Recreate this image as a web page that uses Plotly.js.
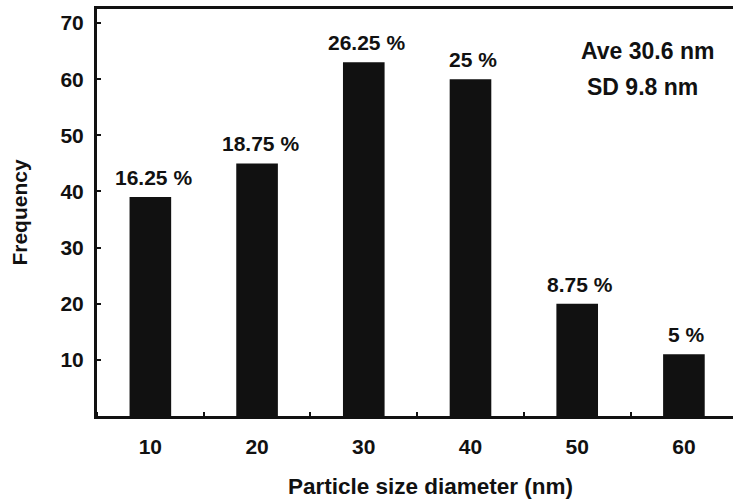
<!DOCTYPE html>
<html>
<head>
<meta charset="utf-8">
<script src="https://cdn.plot.ly/plotly-3.0.1.min.js"></script>
<style>html,body{margin:0;padding:0;background:#fff}#chart{width:733px;height:502px}</style>
</head>
<body>
<div id="chart"></div>
<script>
const sizes = [10, 20, 30, 40, 50, 60];
const frequency = [39, 45, 63, 60, 20, 11];
const percentLabels = ['16.25 %', '18.75 %', '26.25 %', '25 %', '8.75 %', '5 %'];
const yTicks = [10, 20, 30, 40, 50, 60, 70];
const statsLines = ['Ave 30.6 nm', 'SD 9.8 nm'];
const xTitle = 'Particle size diameter (nm)';
const yTitle = 'Frequency';

const FONT = 'Arial, "Liberation Sans", sans-serif';
const ink = '#111';

const annotations = sizes.map((s, i) => ({
  x: s, y: frequency[i], xref: 'x', yref: 'y',
  text: '<b>' + percentLabels[i] + '</b>', showarrow: false,
  yanchor: 'bottom', yshift: 6, xshift: 3,
  font: {family: FONT, size: 21, color: ink}
}));
annotations.push({
  x: 56.6, y: 65.0, xref: 'x', yref: 'y', text: '<b>' + statsLines[0] + '</b>',
  showarrow: false, font: {family: FONT, size: 23, color: ink}
});
annotations.push({
  x: 56.1, y: 58.6, xref: 'x', yref: 'y', text: '<b>' + statsLines[1] + '</b>',
  showarrow: false, font: {family: FONT, size: 23, color: ink}
});
annotations.push({
  x: 0.5236, y: -0.1744, xref: 'paper', yref: 'paper', text: '<b>' + xTitle + '</b>',
  showarrow: false, xanchor: 'center', yanchor: 'middle',
  font: {family: FONT, size: 22.5, color: ink}
});

const layout = {
  width: 733, height: 502,
  margin: {l: 97, r: 0, t: 9, b: 86},
  paper_bgcolor: '#fff', plot_bgcolor: '#fff',
  showlegend: false,
  xaxis: {
    range: [5, 64.6], showgrid: false, zeroline: false,
    showline: true, linewidth: 3, linecolor: ink, mirror: true,
    tickvals: sizes, ticktext: sizes.map(String), ticks: '',
    ticklabelstandoff: 10,
    minor: {tick0: 5, dtick: 10, ticks: 'inside', ticklen: 4, tickwidth: 2, tickcolor: ink},
    tickfont: {family: FONT, size: 21, color: ink, weight: 'bold'}
  },
  yaxis: {
    range: [0, 72.5], showgrid: false, zeroline: false,
    showline: true, linewidth: 3, linecolor: ink, mirror: false,
    tickvals: yTicks, ticks: 'inside', ticklen: 4, tickwidth: 2, tickcolor: ink,
    ticklabelstandoff: 6,
    tickfont: {family: FONT, size: 21, color: ink, weight: 'bold'},
    title: {text: '<b>' + yTitle + '</b>', standoff: 28,
            font: {family: FONT, size: 21, color: ink}}
  },
  annotations: annotations
};

Plotly.newPlot('chart', [{
  type: 'bar', x: sizes, y: frequency, width: 3.9,
  marker: {color: ink, line: {width: 0}},
  hoverinfo: 'skip'
}], layout, {staticPlot: true});
</script>
</body>
</html>
